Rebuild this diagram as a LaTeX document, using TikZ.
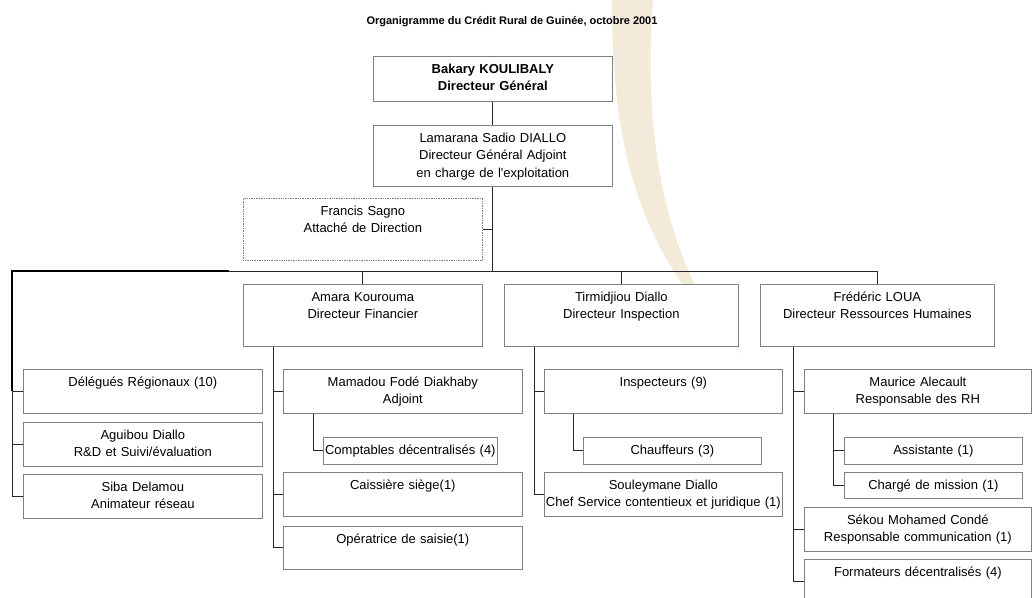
\documentclass[tikz,border=0pt]{standalone}
\usepackage{fontspec}
\setmainfont{Liberation Sans}
\usepackage{tikz}
\usetikzlibrary{positioning,calc}
\definecolor{boxgray}{RGB}{128,128,128}
\definecolor{swoosh}{RGB}{243,234,218}
\tikzset{
  box/.style={draw=boxgray, fill=white, line width=0.7pt, align=center, inner sep=0pt,
    anchor=north west, text height=17pt, font=\fontsize{13}{17.5}\selectfont},
  link/.style={draw=black!85, line width=0.8pt},
  heavy/.style={draw=black, line width=1.7pt},
}

\begin{document}
\begin{tikzpicture}[x=1pt,y=-1pt]
\clip (0,0) rectangle (1032,597);
\fill[white] (0,0) rectangle (1032,597);
% filigrane
\fill[swoosh] (612,0) .. controls (612,130) and (630,250) .. (743,354)
  .. controls (680,290) and (640,170) .. (653,0) -- cycle;

\node[font=\bfseries\fontsize{11}{13}\selectfont] (titre) at (512,22) {Organigramme du Crédit Rural de Guinée, octobre 2001};

% direction
\node[box, text width=239pt, text depth=28pt, font=\bfseries\fontsize{13}{17.5}\selectfont] (dg) at (373,56) {Bakary KOULIBALY\\Directeur Général};
\node[box, text width=239pt, text depth=44pt] (dga) at (373,125) {Lamarana Sadio DIALLO\\Directeur Général Adjoint\\en charge de l\textquotesingle exploitation};
\node[box, densely dotted, text width=239pt, text depth=45pt] (attache) at (243,198) {Francis Sagno\\Attaché de Direction};

% directeurs
\node[box, text width=239pt, text depth=45pt] (amara) at (243,284) {Amara Kourouma\\Directeur Financier};
\node[box, text width=234pt, text depth=45pt] (tirm) at (504,284) {Tirmidjiou Diallo\\Directeur Inspection};
\node[box, text width=234pt, text depth=45pt] (fred) at (760,284) {Frédéric LOUA\\Directeur Ressources Humaines};

% rattaches au DGA
\node[box, text width=239pt, text depth=27pt] (deleg) at (23,369) {Délégués Régionaux (10)};
\node[box, text width=239pt, text depth=27pt] (aguibou) at (23,422) {Aguibou Diallo\\R\&D et Suivi/évaluation};
\node[box, text width=239pt, text depth=27pt] (siba) at (23,474) {Siba Delamou\\Animateur réseau};

% direction financiere
\node[box, text width=239pt, text depth=27pt] (mamadou) at (283,369) {Mamadou Fodé Diakhaby\\Adjoint};
\node[box, text width=174pt, text depth=10pt] (compt) at (323,437) {Comptables décentralisés (4)};
\node[box, text width=239pt, text depth=27pt] (caiss) at (283,472) {Caissière siège(1)};
\node[box, text width=239pt, text depth=26pt] (operat) at (283,526) {Opératrice de saisie(1)};

% inspection
\node[box, text width=238pt, text depth=27pt] (insp) at (544,369) {Inspecteurs (9)};
\node[box, text width=178pt, text depth=10pt] (chauff) at (583,437) {Chauffeurs (3)};
\node[box, text width=238pt, text depth=27pt] (souley) at (544,472) {Souleymane Diallo\\Chef Service contentieux et juridique (1)};

% ressources humaines
\node[box, text width=227pt, text depth=27pt] (maurice) at (804,369) {Maurice Alecault\\Responsable des RH};
\node[box, text width=178pt, text depth=10pt] (assist) at (844,437) {Assistante (1)};
\node[box, text width=178pt, text depth=9pt] (charge) at (844,472) {Chargé de mission (1)};
\node[box, text width=227pt, text depth=27pt] (sekou) at (804,507) {Sékou Mohamed Condé\\Responsable communication (1)};
\node[box, text width=227pt, text depth=27pt] (format) at (804,559) {Formateurs décentralisés (4)};

% liaisons
\coordinate (busL) at (12,271);
\coordinate (busK) at (229,271);
\draw[link] (dg) -- (dga);
\draw[link] (dga.south) -- (dga.south |- busL);
\draw[link] (attache.east) -- (attache.east -| dga.south);
\draw[link] (busL) -- (busL -| fred.north) -- (fred.north);
\draw[link] (amara.north |- busL) -- (amara.north);
\draw[link] (tirm.north |- busL) -- (tirm.north);
\foreach \n in {deleg,aguibou,siba}
  \draw[link] (busL) |- (\n.west);
\draw[heavy] (busK) -- (busL) -- (busL |- deleg.west);

\coordinate (amaraT) at ([xshift=30pt]amara.south west);
\foreach \n in {mamadou,caiss,operat}
  \draw[link] (amaraT) |- (\n.west);
\draw[link] ([xshift=30pt]mamadou.south west) |- (compt.west);

\coordinate (tirmT) at ([xshift=30pt]tirm.south west);
\foreach \n in {insp,souley}
  \draw[link] (tirmT) |- (\n.west);
\draw[link] ([xshift=29pt]insp.south west) |- (chauff.west);

\coordinate (fredT) at ([xshift=33pt]fred.south west);
\foreach \n in {maurice,sekou,format}
  \draw[link] (fredT) |- (\n.west);
\foreach \n in {assist,charge}
  \draw[link] ([xshift=29pt]maurice.south west) |- (\n.west);
\end{tikzpicture}
\end{document}
